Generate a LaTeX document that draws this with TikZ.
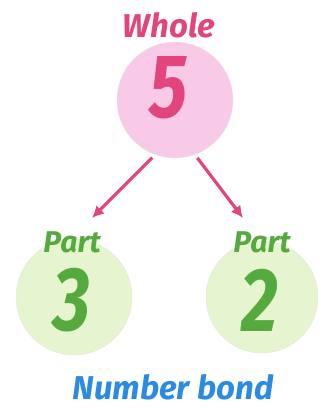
\documentclass[tikz,border=0pt]{standalone}
\usepackage{fontspec}
\setsansfont{Fira Sans}
\usetikzlibrary{arrows.meta}
\definecolor{rose}{HTML}{E2457C}
\definecolor{blush}{HTML}{F9CAE8}
\definecolor{leaf}{HTML}{55AA3E}
\definecolor{mint}{HTML}{E6F5CF}
\definecolor{sky}{HTML}{2B8BE2}
\newcommand\tallfig[1]{\scalebox{0.98}[1.22]{#1}}
\tikzset{bubble/.style={circle,inner sep=0pt,minimum size=#1,draw=black!10,thin},
digit/.style={font=\sffamily\bfseries\itshape\fontsize{74}{74}\selectfont},
tag/.style={font=\sffamily\bfseries\itshape\fontsize{#1}{#1}\selectfont},
link/.style={-{Latex[length=12pt,width=12pt]},line width=3.2pt,rose,shorten <=4pt}}
\begin{document}
\begin{tikzpicture}[x=1pt,y=-1pt]
\useasboundingbox (0,0) rectangle (323,416);
\node[bubble=116pt,fill=blush] (wh) at (175,100) {};
\node[bubble=116pt,fill=mint] (pl) at (74,297) {};
\node[bubble=112pt,fill=mint] (pr) at (262,297) {};
\node[digit,text=rose] (n5) at (169,88) {\tallfig{5}};
\node[digit,text=leaf] (n3) at (72,300) {\tallfig{3}};
\node[digit,text=leaf] (n2) at (260,300) {\tallfig{2}};
\node[tag=33,text=rose] (tw) at (169,25) {Whole};
\node[tag=30,text=leaf] (tl) at (72,242) {Part};
\node[tag=30,text=leaf] (tr) at (262,242) {Part};
\coordinate (el) at (92,218);
\coordinate (er) at (243,218);
\draw[link] (wh.250) -- (el);
\draw[link] (wh.290) -- (er);
\node[tag=33,text=sky] (nb) at (173,387) {Number bond};
\end{tikzpicture}
\end{document}
